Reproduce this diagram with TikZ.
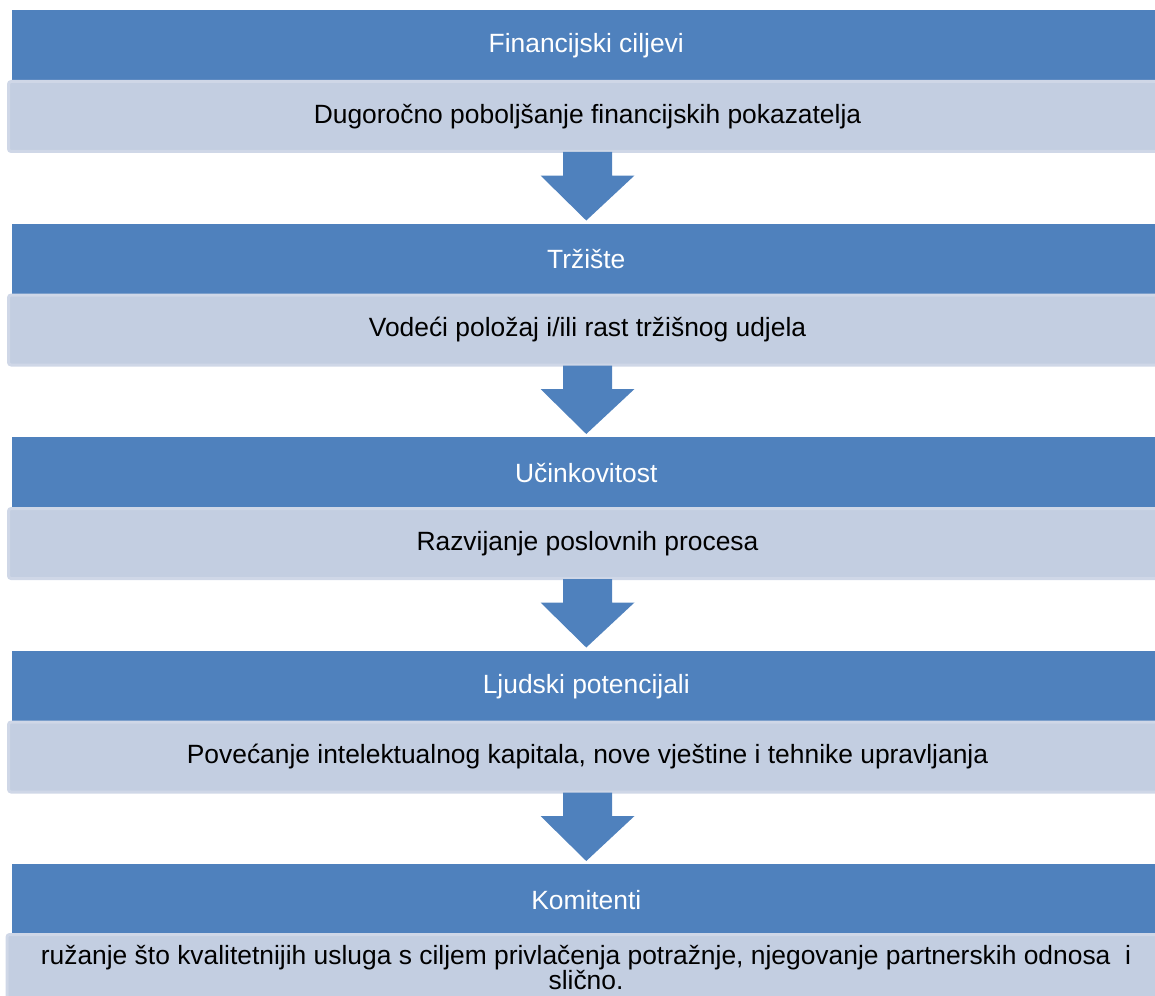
\documentclass[tikz,border=0pt]{standalone}
\usepackage{fontspec}
\setmainfont{Liberation Sans}
\usetikzlibrary{calc}
\definecolor{headblue}{RGB}{79,129,189}
\definecolor{boxfill}{RGB}{195,206,225}
\definecolor{boxedge}{RGB}{207,215,231}
\tikzset{
  header/.style={fill=headblue, text=white, anchor=north west,
    minimum width=861pt, minimum height=53.25pt, inner sep=0pt,
    font=\fontsize{19.8}{22}\selectfont},
  detail/.style={fill=boxfill, draw=boxedge, line width=2.25pt, rounded corners=2pt,
    anchor=north west, minimum width=868.5pt, minimum height=52.5pt, inner sep=0pt,
    font=\fontsize{19.8}{22}\selectfont},
  flow/.style={fill=headblue}
}
\begin{document}
\begin{tikzpicture}[x=0.75pt,y=-0.75pt]
  % page frame (picture is cut on the right and at the bottom)
  \clip (0,0) rectangle (1155,995);
  % levels
  \node[header] (h1) at (12,10) {Financijski ciljevi};
  \node[detail] (d1) at (7,80) {Dugoročno poboljšanje financijskih pokazatelja};
  \node[header] (h2) at (12,223.5) {Tržište};
  \node[detail] (d2) at (7,293.5) {Vodeći položaj i/ili rast tržišnog udjela};
  \node[header] (h3) at (12,437) {Učinkovitost};
  \node[detail] (d3) at (7,507) {Razvijanje poslovnih procesa};
  \node[header] (h4) at (12,650.5) {Ljudski potencijali};
  \node[detail] (d4) at (7,720.5) {Povećanje intelektualnog kapitala, nove vještine i tehnike upravljanja};
  \node[header] (h5) at (12,864) {Komitenti};
  \node[detail, minimum height=0pt, align=center, anchor=north, inner sep=0pt,
        font=\fontsize{19.8}{18.75}\selectfont] (d5) at (586,933)
    {\rule{0pt}{22.5pt}ružanje što kvalitetnijih usluga s ciljem privlačenja potražnje, njegovanje partnerskih odnosa\ \ i\\ slično.\rule[-30pt]{0pt}{0pt}};
  % block arrows between levels
  \foreach \a/\b in {d1/h2,d2/h3,d3/h4,d4/h5}
    \fill[flow] ($(\a.south)+(-24.5,-1)$) -- ++(0,23.5) -- ++(-22.5,0)
      -- ($(\b.north)+(0,-3)$) -- ($(\a.south)+(47,22.5)$) -- ++(-22.5,0)
      -- ($(\a.south)+(24.5,-1)$) -- cycle;
\end{tikzpicture}
\end{document}
